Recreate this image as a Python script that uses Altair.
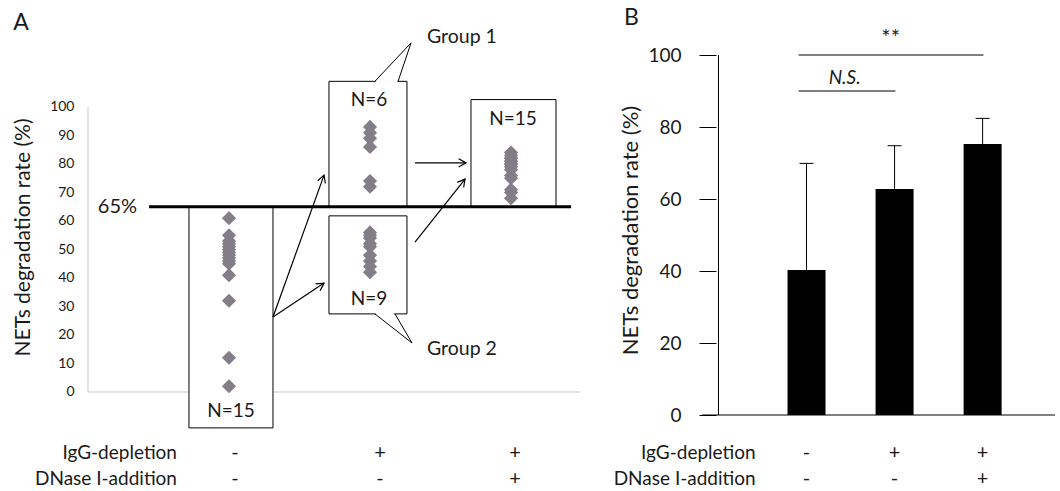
import math
import altair as alt
import pandas as pd

# ---------------- data: panel A ----------------
cat_pos = [1, 2, 3]
before_vals = [61, 55, 53, 52, 51, 50, 49, 48, 47, 46, 45, 41, 32, 12, 2]
group1_vals = [93, 91, 89, 86, 74, 72]
group2_vals = [56, 55, 54, 52, 51, 48, 46, 44, 42]
dnase_vals = [84, 83, 82, 82, 81, 81, 80, 80, 79, 78, 76, 75, 71, 70, 68]
threshold = 65
n_labels = ["N=15", "N=6", "N=9", "N=15"]
group_labels = ["Group 1", "Group 2"]
row_names = ["IgG-depletion", "DNase I-addition"]
igg_signs = ["-", "+", "+"]
dnase_signs = ["-", "-", "+"]

# ---------------- data: panel B ----------------
cond_pos = [1, 2, 3]
mean_rate = [40.3, 62.8, 75.3]
sd_top = [69.9, 74.8, 82.4]
yticks_a = list(range(0, 101, 10))
yticks_b = list(range(0, 101, 20))

FONT = "Lato"
INK = "#1a1a1a"
W_A, W_B, H = 600, 460, 491
XA_DOM = [-0.624, 3.631]
YA_DOM = [-34.74, 137.54]
XB_DOM = [-1.2889, 3.8222]
YB_DOM = [-21.11, 115.28]
KX = W_A / (XA_DOM[1] - XA_DOM[0])
KY = H / (YA_DOM[1] - YA_DOM[0])

axis_a = alt.Axis(values=yticks_a, ticks=False, tickSize=0, domain=False, grid=False, offset=-88,
                  labelFontSize=14, labelColor=INK, labelPadding=14, labelFont=FONT,
                  title="NETs degradation rate (%)", titleFont=FONT, titleFontSize=21,
                  titleFontWeight="normal", titleColor=INK, titleX=-65, titleY=237,
                  titleAngle=270, titleAlign="center", titleBaseline="middle")

axis_b = alt.Axis(values=yticks_b, ticks=True, tickSize=17, tickColor="black", tickWidth=1,
                  domain=False, grid=False, offset=-116,
                  labelFontSize=19, labelColor=INK, labelPadding=18, labelFont=FONT,
                  title="NETs degradation rate (%)", titleFont=FONT, titleFontSize=22,
                  titleFontWeight="normal", titleColor=INK, titleX=-86, titleY=230,
                  titleAngle=270, titleAlign="center", titleBaseline="middle")


def xa(f="x"):
    return alt.X(f, type="quantitative", scale=alt.Scale(domain=XA_DOM, nice=False, zero=False), axis=None)


def ya(f="y"):
    return alt.Y(f, type="quantitative", scale=alt.Scale(domain=YA_DOM, nice=False, zero=False), axis=axis_a)


def xb(f="x"):
    return alt.X(f, type="quantitative", scale=alt.Scale(domain=XB_DOM, nice=False, zero=False), axis=None)


def yb(f="y"):
    return alt.Y(f, type="quantitative", scale=alt.Scale(domain=YB_DOM, nice=False, zero=False), axis=axis_b)


# ---------- panel A ----------
gray_df = pd.DataFrame({"x": [0, 0], "x2": [0, 3.49], "y": [0, 0], "y2": [100, 0]})
gray = alt.Chart(gray_df).mark_rule(color="#c8c8c8", strokeWidth=1).encode(
    x=xa(), x2="x2", y=ya(), y2="y2")

boxes_df = pd.DataFrame({
    "x": [0.716, 1.709, 1.709, 2.716],
    "x2": [1.312, 2.262, 2.262, 3.319],
    "y": [threshold, 109, 61.8, 102.6],
    "y2": [-12.6, threshold, 27.4, threshold],
})
boxes = alt.Chart(boxes_df).mark_rect(fill="white", stroke="black", strokeWidth=1).encode(
    x=xa(), x2="x2", y=ya(), y2="y2")

cover_df = pd.DataFrame({"x": [2.04, 2.04], "x2": [2.195, 2.172], "y": [109, 27.4]})
cover = alt.Chart(cover_df).mark_rule(color="white", strokeWidth=2.5).encode(
    x=xa(), x2="x2", y=ya())

tail_df = pd.DataFrame({
    "x": [2.035, 2.199, 2.035, 2.177],
    "y": [109, 109, 27.4, 27.4],
    "x2": [2.291, 2.291, 2.298, 2.298],
    "y2": [122.5, 122.5, 17.2, 17.2],
})
tails = alt.Chart(tail_df).mark_rule(color="black", strokeWidth=1).encode(
    x=xa(), x2="x2", y=ya(), y2="y2")

thr_df = pd.DataFrame({"x": [0.433], "x2": [3.426], "y": [threshold]})
thr = alt.Chart(thr_df).mark_rule(color="black", strokeWidth=3).encode(x=xa(), x2="x2", y=ya())

pts_df = pd.DataFrame({
    "x": [cat_pos[0]] * len(before_vals) + [cat_pos[1]] * (len(group1_vals) + len(group2_vals))
         + [cat_pos[2]] * len(dnase_vals),
    "y": before_vals + group1_vals + group2_vals + dnase_vals,
})
pts = alt.Chart(pts_df).mark_point(shape="diamond", filled=True, size=200, color="#837d88",
                                   opacity=1).encode(x=xa(), y=ya())

arr_df = pd.DataFrame({
    "x": [1.312, 1.312, 2.319, 2.319],
    "y": [26.3, 26.3, 80.4, 52.6],
    "x2": [1.674, 1.674, 2.681, 2.674],
    "y2": [76.1, 38.2, 80.4, 74.7],
})
arr_df["ang"] = [
    (math.degrees(math.atan2((r.x2 - r.x) * KX, (r.y2 - r.y) * KY)) + 360) % 360
    for r in arr_df.itertuples()
]
shafts = alt.Chart(arr_df).mark_rule(color="black", strokeWidth=1.2).encode(
    x=xa(), x2="x2", y=ya(), y2="y2")
heads = alt.Chart(arr_df).mark_point(shape="M-0.55,1L0,0L0.55,1", filled=False, size=220,
                                     color="black", strokeWidth=1.2, opacity=1).encode(
    x=xa("x2"), y=ya("y2"), angle=alt.Angle("ang", type="quantitative", scale=None))

center_txt_df = pd.DataFrame({
    "x": [-0.475, 1.014, 1.993, 1.993, 3.014] + [1.043, 2.071, 3.028] * 2,
    "y": [129.5, -6.7, 102.5, 32.6, 95.8] + [-21.4] * 3 + [-30.5] * 3,
    "t": ["A"] + n_labels + igg_signs + dnase_signs,
    "fs": [23, 19, 19, 19, 19] + [20] * 6,
})
ctext_a = alt.Chart(center_txt_df).mark_text(align="center", baseline="middle", font=FONT,
                                             color=INK).encode(
    x=xa(), y=ya(), text="t", size=alt.Size("fs", type="quantitative", scale=None))

left_txt_df = pd.DataFrame({"x": [2.404, 2.404], "y": [124.6, 15.1], "t": group_labels})
ltext_a = alt.Chart(left_txt_df).mark_text(align="left", baseline="middle", font=FONT,
                                           fontSize=19.5, color=INK).encode(x=xa(), y=ya(), text="t")

right_txt_df = pd.DataFrame({"x": [0.348, 0.631, 0.631], "y": [threshold, -21.4, -30.5],
                             "t": [f"{threshold}%"] + row_names, "fs": [20, 19, 19]})
rtext_a = alt.Chart(right_txt_df).mark_text(align="right", baseline="middle", font=FONT,
                                            color=INK).encode(
    x=xa(), y=ya(), text="t", size=alt.Size("fs", type="quantitative", scale=None))

panel_a = alt.layer(gray, boxes, cover, tails, thr, pts, shafts, heads, ctext_a, ltext_a,
                    rtext_a).properties(width=W_A, height=H)

# ---------- panel B ----------
axl_df = pd.DataFrame({"x": [0, -0.189], "x2": [0, 3.822], "y": [0, 0], "y2": [100, 0]})
axl = alt.Chart(axl_df).mark_rule(color="black", strokeWidth=1).encode(
    x=xb(), x2="x2", y=yb(), y2="y2")

bar_df = pd.DataFrame({"x": cond_pos, "y": mean_rate, "top": sd_top})
bars = alt.Chart(bar_df).mark_bar(size=38, color="black").encode(
    x=xb(), y=yb(), y2=alt.Y2(datum=0))
stems = alt.Chart(bar_df).mark_rule(color="black", strokeWidth=1).encode(
    x=xb(), y=yb(), y2="top")
caps = alt.Chart(bar_df).mark_tick(orient="horizontal", size=14, thickness=1, color="black",
                                   opacity=1).encode(x=xb(), y=yb("top"))

sig_df = pd.DataFrame({"x": [0.91, 0.91], "x2": [3.01, 2.01], "y": [100, 90]})
sig = alt.Chart(sig_df).mark_rule(color="black", strokeWidth=1).encode(x=xb(), x2="x2", y=yb())

ctext_b_df = pd.DataFrame({
    "x": [-0.989, 1.956] + cond_pos * 2,
    "y": [110.3, 104.8] + [-10.6] * 3 + [-17.8] * 3,
    "t": ["B", "**"] + igg_signs + dnase_signs,
    "fs": [23, 22] + [20] * 6,
})
ctext_b = alt.Chart(ctext_b_df).mark_text(align="center", baseline="middle", font=FONT,
                                          color=INK).encode(
    x=xb(), y=yb(), text="t", size=alt.Size("fs", type="quantitative", scale=None))

ns_df = pd.DataFrame({"x": [1.433], "y": [93.6], "t": ["N.S."]})
ns = alt.Chart(ns_df).mark_text(align="center", baseline="middle", font=FONT, fontSize=19,
                                fontStyle="italic", color=INK).encode(x=xb(), y=yb(), text="t")

rt_b_df = pd.DataFrame({"x": [0.422, 0.422], "y": [-10.6, -17.8], "t": row_names})
rtext_b = alt.Chart(rt_b_df).mark_text(align="right", baseline="middle", font=FONT, fontSize=19,
                                       color=INK).encode(x=xb(), y=yb(), text="t")

panel_b = alt.layer(axl, bars, stems, caps, sig, ctext_b, ns, rtext_b).properties(width=W_B, height=H)

chart = alt.hconcat(panel_a, panel_b, spacing=0, bounds="flush").properties(
    padding=0, background="white"
).configure_view(stroke=None)

chart.save("out.html", embed_options={"renderer": "svg", "actions": False})
